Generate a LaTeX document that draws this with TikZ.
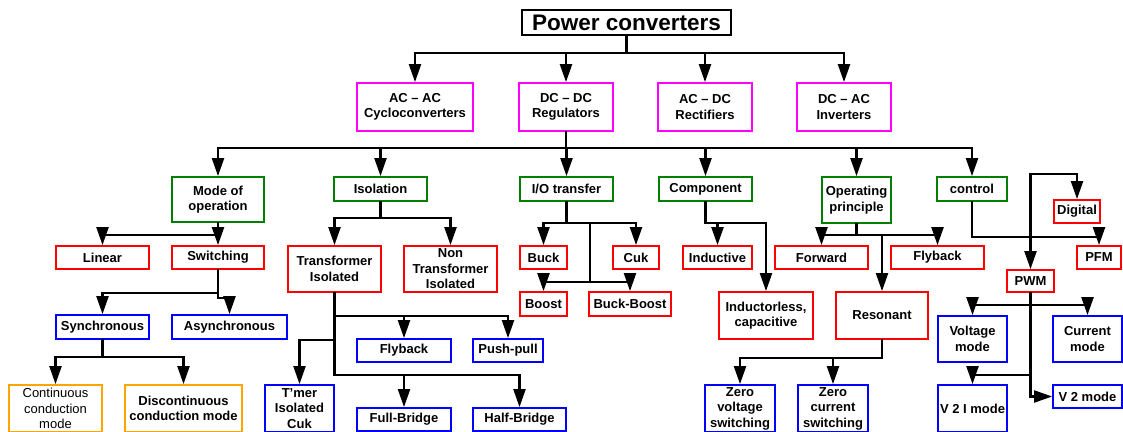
\documentclass[tikz,border=0pt]{standalone}
\usepackage{fontspec}
\setmainfont{Liberation Sans}
\usetikzlibrary{arrows.meta}
\definecolor{cmag}{RGB}{255,0,255}
\definecolor{cgreen}{RGB}{0,128,0}
\definecolor{cred}{RGB}{255,0,0}
\definecolor{cblue}{RGB}{0,0,255}
\definecolor{corange}{RGB}{255,165,0}
\tikzset{
  bx/.style={draw=#1, line width=1.8pt, fill=white, inner sep=1pt, align=center,
    font=\bfseries\fontsize{13}{15.5}\selectfont, text=black},
  ln/.style={line width=2.2pt, line cap=rect},
  arr/.style={line width=2.2pt, line cap=rect, -{Triangle[length=18pt,width=12pt]}},
}
\begin{document}
\begin{tikzpicture}[x=1pt,y=-1pt]
\useasboundingbox (0,0) rectangle (1123,431);
% ---- nodes
\node[bx=black, minimum width=209pt, minimum height=25pt, inner sep=0pt,
  font=\bfseries\fontsize{22.5}{24}\selectfont] (pc) at (626.5,22.5) {Power converters};
\node[bx=cmag, minimum width=116pt, minimum height=48pt] (acac) at (415,107) {AC – AC\\Cycloconverters};
\node[bx=cmag, minimum width=94pt, minimum height=48pt] (dcdc) at (566,107) {DC – DC\\Regulators};
\node[bx=cmag, minimum width=94pt, minimum height=48pt] (acdc) at (705,107) {AC – DC\\Rectifiers};
\node[bx=cmag, minimum width=94pt, minimum height=48pt] (dcac) at (844,107) {DC – AC\\Inverters};
\node[bx=cgreen, minimum width=92pt, minimum height=45pt] (mode) at (218,199.5) {Mode of\\operation};
\node[bx=cgreen, minimum width=93pt, minimum height=24pt] (iso) at (380.5,189) {Isolation};
\node[bx=cgreen, minimum width=93pt, minimum height=24pt] (io) at (566.5,189) {I/O transfer};
\node[bx=cgreen, minimum width=93pt, minimum height=24pt] (comp) at (705.5,189) {Component};
\node[bx=cgreen, minimum width=69pt, minimum height=46pt] (op) at (856.5,200) {Operating\\principle};
\node[bx=cgreen, minimum width=70pt, minimum height=24pt] (ctrl) at (972,189) {control};
% row 4
\node[bx=cred, minimum width=93pt, minimum height=23pt] (linear) at (102.5,257.5) {Linear};
\node[bx=cred, minimum width=92pt, minimum height=23pt] (switching) at (218,257.5) {Switching};
\node[bx=cred, minimum width=93pt, minimum height=46pt] (tiso) at (334.5,269) {Transformer\\Isolated};
\node[bx=cred, minimum width=93pt, minimum height=46pt, inner sep=0pt] (ntiso) at (450.5,269) {Non\\Transformer\\Isolated};
\node[bx=cred, minimum width=47pt, minimum height=23pt] (buck) at (543.5,257.5) {Buck};
\node[bx=cred, minimum width=46pt, minimum height=23pt] (cuk) at (636,257.5) {Cuk};
\node[bx=cred, minimum width=47pt, minimum height=24pt] (boost) at (543.5,304) {Boost};
\node[bx=cred, minimum width=82pt, minimum height=24pt] (buckboost) at (630,304) {Buck-Boost};
\node[bx=cred, minimum width=69pt, minimum height=23pt] (inductive) at (717.5,257.5) {Inductive};
\node[bx=cred, minimum width=94pt, minimum height=47pt] (inductorless) at (766,315.5) {Inductorless,\\capacitive};
\node[bx=cred, minimum width=93pt, minimum height=23pt] (forward) at (821.5,257.5) {Forward};
\node[bx=cred, minimum width=93pt, minimum height=23pt] (flybackb) at (937.5,257.5) {Flyback};
\node[bx=cred, minimum width=92pt, minimum height=47pt] (resonant) at (882,315.5) {Resonant};
\node[bx=cred, minimum width=46pt, minimum height=23pt] (digital) at (1077,211.5) {Digital};
\node[bx=cred, minimum width=44pt, minimum height=23pt] (pfm) at (1099,257.5) {PFM};
\node[bx=cred, minimum width=47pt, minimum height=22pt] (pwm) at (1030.5,281) {PWM};
% row 5
\node[bx=cblue, minimum width=93pt, minimum height=24pt] (sync) at (102.5,327) {Synchronous};
\node[bx=cblue, minimum width=115pt, minimum height=24pt] (async) at (229.5,327) {Asynchronous};
\node[bx=cblue, minimum width=94pt, minimum height=23pt] (flybacka) at (404,350.5) {Flyback};
\node[bx=cblue, minimum width=70pt, minimum height=23pt] (pushpull) at (508,350.5) {Push-pull};
\node[bx=cblue, minimum width=69pt, minimum height=46pt] (vmode) at (972.5,339) {Voltage\\mode};
\node[bx=cblue, minimum width=69pt, minimum height=46pt] (cmode) at (1087.5,339) {Current\\mode};
% row 6
\node[bx=cblue, minimum width=69pt, minimum height=47pt] (tmer) at (299.5,408.5) {T’mer\\Isolated\\Cuk};
\node[bx=cblue, minimum width=94pt, minimum height=23pt] (fullbridge) at (404,419.5) {Full-Bridge};
\node[bx=cblue, minimum width=93pt, minimum height=23pt] (halfbridge) at (519.5,419.5) {Half-Bridge};
\node[bx=cblue, minimum width=70pt, minimum height=47pt] (zvs) at (740,408.5) {Zero\\voltage\\switching};
\node[bx=cblue, minimum width=70pt, minimum height=47pt] (zcs) at (833,408.5) {Zero\\current\\switching};
\node[bx=cblue, minimum width=69pt, minimum height=47pt] (vti) at (972.5,408.5) {V 2 I mode};
\node[bx=cblue, minimum width=69pt, minimum height=23pt] (vtwo) at (1087.5,396.5) {V 2 mode};
\node[bx=corange, minimum width=93pt, minimum height=47pt, font=\fontsize{13}{15.5}\selectfont] (ccm) at (55.5,408.5) {Continuous\\conduction\\mode};
\node[bx=corange, minimum width=117pt, minimum height=47pt] (dcm) at (183.5,408.5) {Discontinuous\\conduction mode};
% ---- connectors
% top level
\draw[ln] (pc.south) -- ++(0,17) coordinate (t1);
\draw[ln] (t1 -| acac) -- (t1 -| dcac);
\foreach \n in {acac,dcdc,acdc,dcac} \draw[arr] (t1 -| \n) -- (\n.north);
% second level
\draw[ln] (dcdc.south) -- ++(0,16) coordinate (t2);
\draw[ln] (t2 -| mode) -- (t2 -| ctrl);
\foreach \n in {mode,iso,io,comp,op,ctrl} \draw[arr] (t2 -| \n) -- (\n.north);
% mode of operation
\draw[ln] (mode.south) -- ++(0,12) coordinate (m1);
\draw[ln] (m1 -| linear) -- (m1);
\draw[arr] (m1 -| linear) -- (linear.north);
\draw[arr] (m1) -- (switching.north);
% switching
\draw[ln] (switching.south) -- ++(0,23) coordinate (s1);
\draw[ln] (s1 -| sync) -- (s1);
\draw[arr] (s1 -| sync) -- (sync.north);
\draw[ln] (s1) -- ++(0,5) coordinate (s2) -- (s2 -| async);
\draw[arr] (s2 -| async) -- (async.north);
% synchronous
\draw[ln] (sync.south) -- ++(0,17) coordinate (y1);
\draw[ln] (y1 -| ccm) -- (y1 -| dcm);
\draw[arr] (y1 -| ccm) -- (ccm.north);
\draw[arr] (y1 -| dcm) -- (dcm.north);
% isolation
\draw[ln] (iso.south) -- ++(0,16) coordinate (i1);
\draw[ln] (i1 -| tiso) -- (i1 -| ntiso);
\draw[arr] (i1 -| tiso) -- (tiso.north);
\draw[arr] (i1 -| ntiso) -- (ntiso.north);
% transformer isolated
\draw[ln] (tiso.south) -- ++(0,23) coordinate (ta) -- ++(0,24) coordinate (tc) -- ++(0,35) coordinate (tb);
\draw[ln] (ta) -- (ta -| pushpull);
\draw[arr] (ta -| flybacka) -- (flybacka.north);
\draw[arr] (ta -| pushpull) -- (pushpull.north);
\draw[ln] (tc) -- (tc -| tmer);
\draw[arr] (tc -| tmer) -- (tmer.north);
\draw[ln] (tb) -- (tb -| halfbridge);
\draw[arr] (tb -| fullbridge) -- (fullbridge.north);
\draw[arr] (tb -| halfbridge) -- (halfbridge.north);
% I/O transfer
\draw[ln] (io.south) -- ++(0,21) coordinate (o1);
\draw[ln] (o1 -| buck) -- (o1 -| cuk);
\draw[arr] (o1 -| buck) -- (buck.north);
\draw[arr] (o1 -| cuk) -- (cuk.north);
\draw[ln] (o1) ++(23.5,0) coordinate (o2) -- ++(0,59) coordinate (o3);
\draw[ln] (o3 -| boost) -- (o3 -| buckboost);
\draw[arr] (o3 -| boost) -- (boost.north);
\draw[arr] (o3 -| buckboost) -- (buckboost.north);
% component
\draw[ln] (comp.south) -- ++(0,21) coordinate (c1) -- (c1 -| inductorless);
\draw[arr] (c1 -| inductive) -- (inductive.north);
\draw[arr] (c1 -| inductorless) -- (inductorless.north);
% operating principle
\draw[ln] (op.south) -- ++(0,11) coordinate (p1);
\draw[ln] (p1 -| forward) -- (p1 -| flybackb);
\draw[arr] (p1 -| forward) -- (forward.north);
\draw[arr] (p1 -| flybackb) -- (flybackb.north);
\draw[arr] (p1 -| resonant) -- (resonant.north);
% resonant
\draw[ln] (resonant.south) -- ++(0,18) coordinate (r1) -- (r1 -| zvs);
\draw[arr] (r1 -| zvs) -- (zvs.north);
\draw[arr] (r1 -| zcs) -- (zcs.north);
% control
\draw[ln] (ctrl.south) -- ++(0,35) coordinate (k1) -- (k1 -| pfm);
\draw[arr] (k1 -| pfm) -- (pfm.north);
\path (pwm.north) ++(0,-95) coordinate (k2);
\draw[arr] (k2) -- (pwm.north);
\draw[ln] (k2) -- (k2 -| digital);
\draw[arr] (k2 -| digital) -- (digital.north);
% PWM
\draw[ln] (pwm.south) -- ++(0,12) coordinate (w1);
\draw[ln] (w1 -| vmode) -- (w1 -| cmode);
\draw[arr] (w1 -| vmode) -- (vmode.north);
\draw[arr] (w1 -| cmode) -- (cmode.north);
\draw[arr] (pwm.south) |- (vtwo.west);
\path (pwm.south) ++(0,82) coordinate (w2);
\draw[ln] (w2) -- (w2 -| vti);
\draw[arr] (w2 -| vti) -- (vti.north);
\end{tikzpicture}
\end{document}
